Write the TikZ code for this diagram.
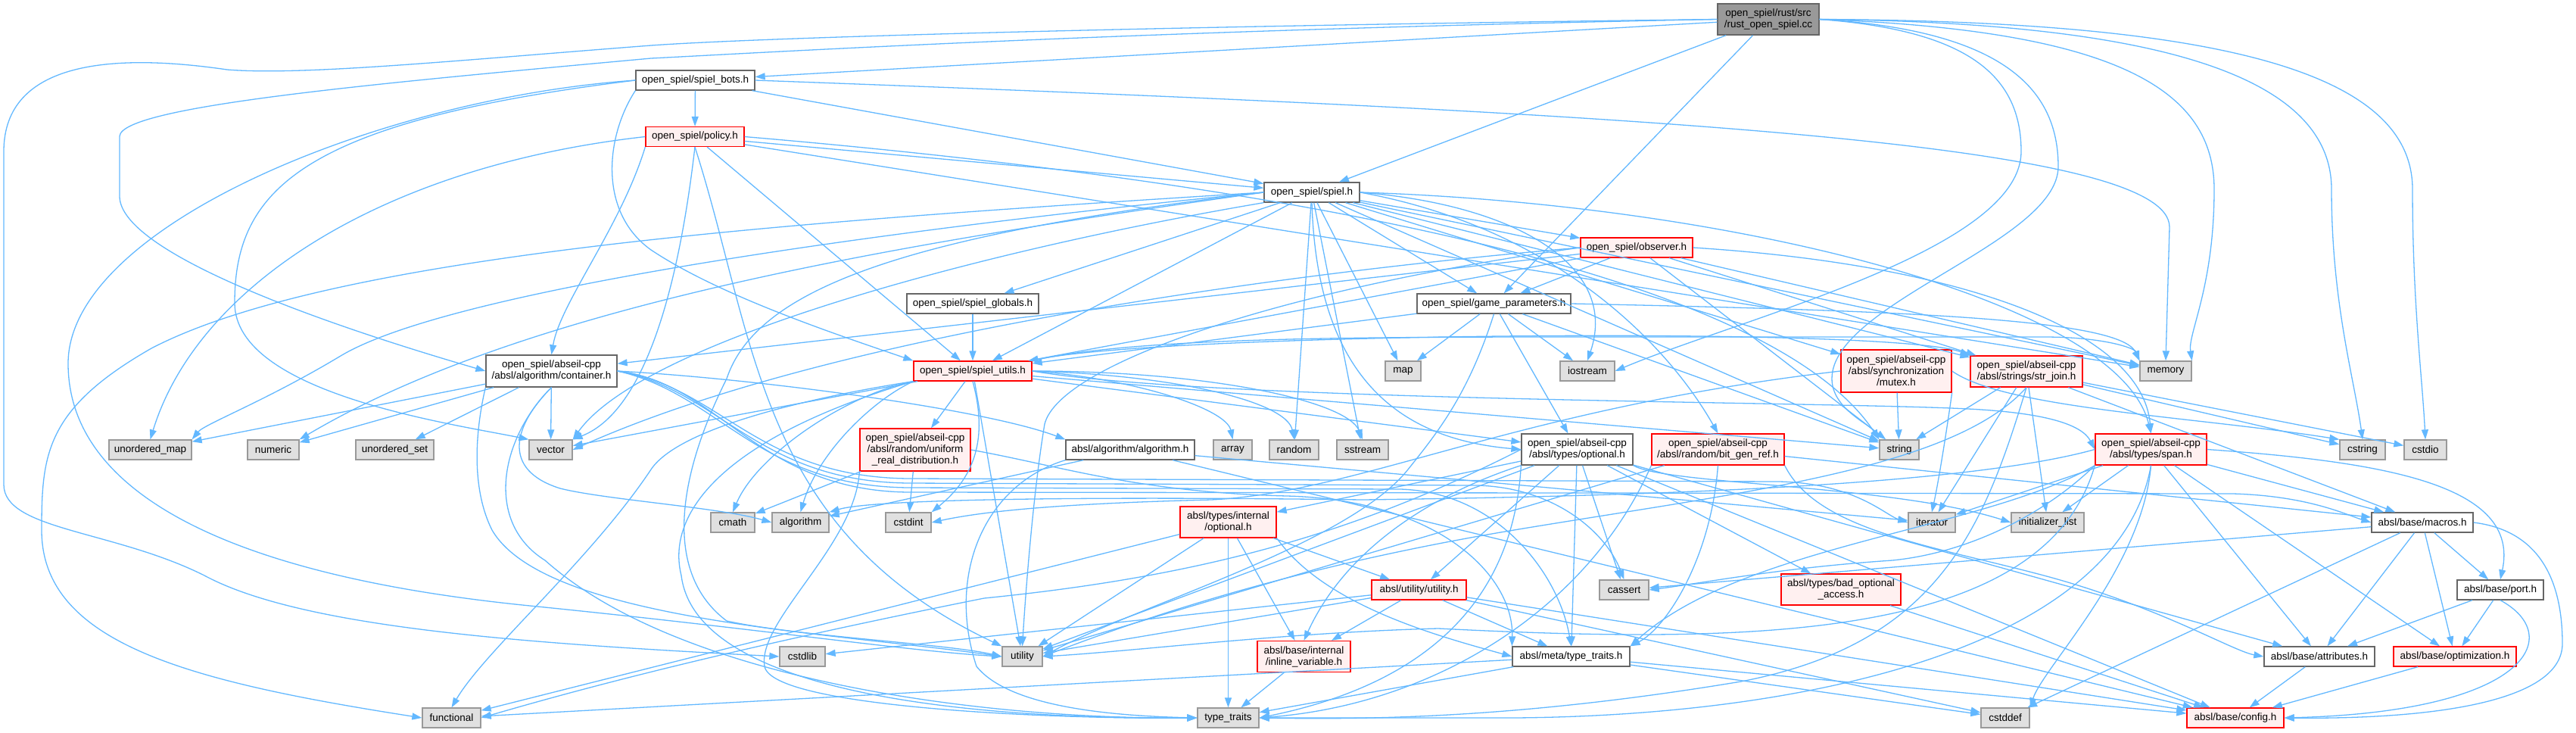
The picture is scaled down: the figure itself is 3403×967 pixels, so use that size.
\documentclass[tikz,border=0pt]{standalone}
\usepackage{fontspec}
\setmainfont{Liberation Sans}
\usetikzlibrary{arrows.meta}
\definecolor{edgec}{HTML}{63B8FF}
\definecolor{leaffill}{HTML}{E0E0E0}
\definecolor{leafdraw}{HTML}{999999}
\definecolor{nodedraw}{HTML}{666666}
\definecolor{truncfill}{HTML}{FFF0F0}
\definecolor{rootfill}{HTML}{999999}
\newcommand\nodefont{\fontsize{13.5}{15}\selectfont}
\begin{document}
\begin{tikzpicture}[x=1pt,y=-1pt,
  box/.style={rectangle, draw=nodedraw, fill=white, line width=1.3pt, inner sep=0pt,
    minimum height=26pt, align=center, font=\nodefont},
  leaf/.style={box, draw=leafdraw, fill=leaffill},
  trunc/.style={box, draw=red, fill=truncfill},
  rootbox/.style={box, draw=nodedraw, fill=rootfill},
  e/.style={draw=edgec, line width=1.3pt, -{Triangle[length=13pt,width=9pt]}}]
\useasboundingbox (0,0) rectangle (3403,967);

% ---------- nodes ----------
\node[rootbox, minimum width=134pt, minimum height=41pt] (R) at (2336,25.5) {open\_spiel/rust/src\\/rust\_open\_spiel.cc};
\node[box, minimum width=157pt] (SB) at (918.5,106) {open\_spiel/spiel\_bots.h};
\node[trunc, minimum width=130pt] (P) at (918,180.5) {open\_spiel/policy.h};
\node[box, minimum width=126pt] (S) at (1733,254) {open\_spiel/spiel.h};
\node[trunc, minimum width=148pt] (OBS) at (2162,327) {open\_spiel/observer.h};
\node[box, minimum width=203pt] (GP) at (1973.5,401) {open\_spiel/game\_parameters.h};
\node[box, minimum width=174pt] (SG) at (1285,401) {open\_spiel/spiel\_globals.h};
\node[trunc, minimum width=156pt] (SU) at (1285,490) {open\_spiel/spiel\_utils.h};
\node[box, minimum width=173pt, minimum height=42pt] (CONT) at (728.5,490) {open\_spiel/abseil-cpp\\/absl/algorithm/container.h};
\node[leaf, minimum width=109pt] (UMAP) at (198.5,594) {unordered\_map};
\node[leaf, minimum width=68pt] (NUM) at (361,594) {numeric};
\node[leaf, minimum width=103pt] (USET) at (521.5,594) {unordered\_set};
\node[leaf, minimum width=57pt] (VEC) at (727.5,594) {vector};
\node[leaf, minimum width=77pt] (FUNC) at (596.5,948) {functional};
\node[trunc, minimum width=146pt, minimum height=56pt] (URD) at (1209,594) {open\_spiel/abseil-cpp\\/absl/random/uniform\\\_real\_distribution.h};
\node[box, minimum width=170pt] (ALGH) at (1493,594) {absl/algorithm/algorithm.h};
\node[leaf, minimum width=51pt] (ARR) at (1628.5,594) {array};
\node[leaf, minimum width=65pt] (RAND) at (1709.5,594) {random};
\node[leaf, minimum width=58pt] (CMATH) at (968,690) {cmath};
\node[leaf, minimum width=75pt] (ALG) at (1057.5,690) {algorithm};
\node[leaf, minimum width=60pt] (CSTDINT) at (1200,690) {cstdint};
\node[trunc, minimum width=127pt, minimum height=41pt] (INTOPT) at (1622.5,689.5) {absl/types/internal\\/optional.h};
\node[leaf, minimum width=60pt] (CSTDLIB) at (1060,867) {cstdlib};
\node[leaf, minimum width=53pt] (UTIL) at (1350.5,867) {utility};
\node[leaf, minimum width=81pt] (TT) at (1622.5,948) {type\_traits};
\node[leaf, minimum width=47pt] (MAP) at (1853.5,490) {map};
\node[leaf, minimum width=72pt] (IOS) at (2097,490) {iostream};
\node[leaf, minimum width=68pt] (SST) at (1800,594) {sstream};
\node[box, minimum width=147pt, minimum height=41pt] (OPT) at (2083.5,593.5) {open\_spiel/abseil-cpp\\/absl/types/optional.h};
\node[trunc, minimum width=175pt, minimum height=41pt] (BGR) at (2269.5,593.5) {open\_spiel/abseil-cpp\\/absl/random/bit\_gen\_ref.h};
\node[leaf, minimum width=52pt] (STR) at (2509,594) {string};
\node[trunc, minimum width=146pt, minimum height=56pt] (MUTEX) at (2505,490) {open\_spiel/abseil-cpp\\/absl/synchronization\\/mutex.h};
\node[leaf, minimum width=62pt] (ITER) at (2552,690) {iterator};
\node[trunc, minimum width=125pt] (UTILH) at (1874.5,779) {absl/utility/utility.h};
\node[leaf, minimum width=65pt] (CASSERT) at (2145.5,779) {cassert};
\node[trunc, minimum width=158pt, minimum height=41pt] (BADOPT) at (2432,778.5) {absl/types/bad\_optional\\\_access.h};
\node[trunc, minimum width=123pt, minimum height=41pt] (INLINE) at (1722.5,867) {absl/base/internal\\/inline\_variable.h};
\node[box, minimum width=155pt] (MTT) at (2075.5,867) {absl/meta/type\_traits.h};
\node[leaf, minimum width=68pt] (MEM) at (2861,490) {memory};
\node[trunc, minimum width=148pt, minimum height=41pt] (SJ) at (2677,490.5) {open\_spiel/abseil-cpp\\/absl/strings/str\_join.h};
\node[leaf, minimum width=60pt] (CSTRING) at (3121,594) {cstring};
\node[leaf, minimum width=56pt] (CSTDIO) at (3204,594) {cstdio};
\node[trunc, minimum width=147pt, minimum height=41pt] (SPAN) at (2841.5,593.5) {open\_spiel/abseil-cpp\\/absl/types/span.h};
\node[leaf, minimum width=96pt] (INIT) at (2705,690) {initializer\_list};
\node[box, minimum width=134pt] (MACROS) at (3200,690) {absl/base/macros.h};
\node[box, minimum width=114pt] (PORT) at (3303,779) {absl/base/port.h};
\node[box, minimum width=146pt] (ATTR) at (3064,867) {absl/base/attributes.h};
\node[trunc, minimum width=162pt] (OPTIM) at (3243,867) {absl/base/optimization.h};
\node[leaf, minimum width=64pt] (CSTDDEF) at (2649,948) {cstddef};
\node[trunc, minimum width=128pt] (CONFIG) at (2953,948) {absl/base/config.h};

% ---------- edges: root ----------
\draw[e] (R) -- (SB);
\draw[e] (R) -- (S);
\draw[e] (R) -- (GP);
\draw[e] (R.east) .. controls (2800,40) and (2925,120) .. (2925,250) .. controls (2925,380) and (2890,440) .. (MEM.north east);
\draw[e] (R.east) .. controls (2850,30) and (3080,100) .. (3080,250) .. controls (3080,400) and (3110,500) .. (CSTRING.north);
\draw[e] (R.east) .. controls (2950,28) and (3187,100) .. (3187,250) .. controls (3187,400) and (3200,500) .. (CSTDIO.north);
\draw[e] (R.east) .. controls (2600,40) and (2670,100) .. (2670,200) .. controls (2670,330) and (2300,420) .. (IOS.east);
\draw[e] (R.east) .. controls (2650,40) and (2719,120) .. (2719,220) .. controls (2719,320) and (2420,400) .. (2420,500) .. controls (2420,540) and (2470,560) .. (STR.north west);
\draw[e] (R.west) .. controls (1500,40) and (1000,70) .. (860,77) .. controls (500,110) and (160,140) .. (158,180) -- (158,260) .. controls (160,330) and (400,420) .. (CONT.west);
\draw[e] (R.west) .. controls (1500,35) and (1000,50) .. (860,60) .. controls (600,80) and (400,100) .. (300,92) .. controls (150,70) and (5,80) .. (5,200) -- (5,640) .. controls (5,700) and (150,700) .. (270,760) .. controls (400,830) and (700,850) .. (CSTDLIB.west);

% ---------- spiel_bots ----------
\draw[e] (SB) -- (P);
\draw[e] (SB) -- (S);
\draw[e] (SB.east) .. controls (2200,150) and (2866,190) .. (2866,300) -- (MEM.north);
\draw[e] (SB.south west) .. controls (800,180) and (790,280) .. (860,330) .. controls (950,390) and (1100,440) .. (SU.north west);
\draw[e] (SB.west) .. controls (400,160) and (310,250) .. (310,400) .. controls (310,520) and (600,560) .. (VEC.north west);
\draw[e] (SB.west) .. controls (500,130) and (90,300) .. (90,480) .. controls (90,650) and (300,760) .. (700,800) .. controls (1000,830) and (1200,860) .. (UTIL.west);

% ---------- policy ----------
\draw[e] (P) -- (S);
\draw[e] (P) -- (SU);
\draw[e] (P.south west) .. controls (820,300) and (740,400) .. (CONT.north);
\draw[e] (P.west) .. controls (500,220) and (260,380) .. (UMAP.north);
\draw[e] (P) -- (MEM);
\draw[e] (P.east) .. controls (1800,250) and (2350,380) .. (STR.north west);
\draw[e] (P.south) .. controls (1000,450) and (1000,700) .. (UTIL.north west);
\draw[e] (P.south) .. controls (900,350) and (860,540) .. (VEC.north east);

% ---------- spiel ----------
\draw[e] (S) -- (OBS);
\draw[e] (S) -- (GP);
\draw[e] (S) -- (SG);
\draw[e] (S) -- (SU);
\draw[e] (S) -- (MAP);
\draw[e] (S.east) .. controls (2000,270) and (2140,350) .. (IOS.north);
\draw[e] (S) -- (RAND);
\draw[e] (S) -- (SST);
\draw[e] (S.south) .. controls (1740,500) and (1850,580) .. (OPT.west);
\draw[e] (S.east) .. controls (2050,300) and (2200,450) .. (BGR.north);
\draw[e] (S) -- (STR);
\draw[e] (S) -- (MEM);
\draw[e] (S) -- (MUTEX);
\draw[e] (S) -- (SJ);
\draw[e] (S.east) .. controls (2300,270) and (2800,400) .. (SPAN.north);
\draw[e] (S.west) .. controls (1200,320) and (700,400) .. (NUM.north east);
\draw[e] (S.west) .. controls (1200,300) and (600,380) .. (450,470) .. controls (350,530) and (270,560) .. (UMAP.north east);
\draw[e] (S.south west) .. controls (1300,330) and (850,450) .. (VEC.north east);
\draw[e] (S.west) .. controls (1200,310) and (1000,380) .. (960,500) .. controls (890,640) and (880,760) .. (960,820) .. controls (1050,840) and (1250,850) .. (UTIL.west);
\draw[e] (S.west) .. controls (1100,290) and (450,330) .. (200,460) .. controls (60,540) and (55,600) .. (55,700) .. controls (55,850) and (250,900) .. (FUNC.west);

% ---------- observer ----------
\draw[e] (OBS) -- (GP);
\draw[e] (OBS) -- (SU);
\draw[e] (OBS) -- (CONT);
\draw[e] (OBS) -- (MEM);
\draw[e] (OBS) -- (STR);
\draw[e] (OBS) -- (SJ);
\draw[e] (OBS.east) .. controls (2600,350) and (2830,440) .. (SPAN.north);
\draw[e] (OBS.west) .. controls (1700,380) and (1400,480) .. (1380,560) .. controls (1365,650) and (1355,780) .. (UTIL.north);
\draw[e] (OBS.west) .. controls (1700,360) and (1100,440) .. (VEC.east);

% ---------- game_parameters ----------
\draw[e] (GP) -- (MAP);
\draw[e] (GP) -- (IOS);
\draw[e] (GP) -- (SU);
\draw[e] (GP.east) .. controls (2500,410) and (2800,420) .. (MEM.north west);
\draw[e] (GP) -- (STR);
\draw[e] (GP) -- (OPT);
\draw[e] (GP.south) .. controls (1940,520) and (1900,570) .. (1860,620) .. controls (1780,720) and (1500,800) .. (UTIL.east);

% ---------- spiel_globals ----------
\draw[e] (SG) -- (SU);

% ---------- spiel_utils ----------
\draw[e] (SU) -- (URD);
\draw[e] (SU.south west) .. controls (1120,520) and (1000,600) .. (CMATH.north);
\draw[e] (SU.south west) .. controls (1150,530) and (1080,600) .. (ALG.north);
\draw[e] (SU.south) .. controls (1300,560) and (1300,620) .. (CSTDINT.north east);
\draw[e] (SU.east) .. controls (1500,500) and (1620,540) .. (ARR.north);
\draw[e] (SU.east) .. controls (1550,495) and (1700,530) .. (RAND.north);
\draw[e] (SU.east) .. controls (1600,490) and (1780,530) .. (SST.north);
\draw[e] (SU) -- (STR);
\draw[e] (SU.north east) .. controls (1500,445) and (1800,445) .. (2100,445) -- (2700,445) .. controls (2780,445) and (2820,460) .. (MEM.north west);
\draw[e] (SU) -- (VEC);
\draw[e] (SU) -- (UTIL);
\draw[e] (SU.south west) .. controls (950,580) and (880,680) .. (900,760) .. controls (920,920) and (1300,950) .. (TT.west);
\draw[e] (SU.south west) .. controls (1100,520) and (900,560) .. (860,620) .. controls (780,740) and (640,860) .. (FUNC.north);
\draw[e] (SU) -- (OPT);
\draw[e] (SU.north east) .. controls (1500,440) and (2500,430) .. (SJ.north west);
\draw[e] (SU.east) .. controls (1600,530) and (2400,530) .. (2600,540) .. controls (2700,545) and (2750,560) .. (SPAN.west);

% ---------- container ----------
\draw[e] (CONT) -- (UMAP);
\draw[e] (CONT) -- (NUM);
\draw[e] (CONT) -- (USET);
\draw[e] (CONT) -- (VEC);
\draw[e] (CONT.south) .. controls (680,560) and (660,620) .. (740,645) .. controls (800,660) and (950,670) .. (ALG.west);
\draw[e] (CONT.south) .. controls (660,580) and (640,690) .. (720,740) .. controls (900,900) and (1300,950) .. (TT.west);
\draw[e] (CONT.south west) .. controls (630,560) and (620,640) .. (650,700) .. controls (720,820) and (1100,835) .. (UTIL.west);
\draw[e] (CONT.east) .. controls (1000,500) and (1300,540) .. (ALGH.north west);
\draw[e] (CONT.east) .. controls (950,515) and (1000,636) .. (1200,638) -- (1950,641) .. controls (2050,643) and (2120,700) .. (CASSERT.north);
\draw[e] (CONT.east) .. controls (950,520) and (1000,642) .. (1200,644) -- (1850,646) .. controls (1980,650) and (2060,760) .. (MTT.north);
\draw[e] (CONT.east) .. controls (950,510) and (1000,630) .. (1200,632) -- (2350,636) .. controls (2450,638) and (2490,680) .. (ITER.west);
\draw[e] (CONT.east) .. controls (950,505) and (1000,648) .. (1200,650) -- (2950,652) .. controls (3050,655) and (3100,680) .. (MACROS.west);

% ---------- algorithm.h ----------
\draw[e] (ALGH) -- (ALG);
\draw[e] (ALGH) -- (ITER);
\draw[e] (ALGH.south west) .. controls (1300,640) and (1250,760) .. (1290,880) .. controls (1330,930) and (1450,945) .. (TT.west);
\draw[e] (ALGH) -- (CONFIG);

% ---------- uniform_real_distribution ----------
\draw[e] (URD) -- (CMATH);
\draw[e] (URD) -- (CSTDINT);
\draw[e] (URD.south west) .. controls (1130,720) and (1000,820) .. (1010,880) .. controls (1020,935) and (1400,950) .. (TT.west);
\draw[e] (URD.east) .. controls (1400,615) and (1500,650) .. (1700,655) .. controls (1900,660) and (2000,760) .. (MTT.north west);

% ---------- optional.h ----------
\draw[e] (OPT.west) .. controls (1800,700) and (1600,760) .. (1300,790) .. controls (1000,850) and (800,900) .. (FUNC.east);
\draw[e] (OPT.south east) .. controls (2200,640) and (2500,640) .. (INIT.west);
\draw[e] (OPT.south west) .. controls (2000,780) and (1900,900) .. (TT.east);
\draw[e] (OPT) -- (UTIL);
\draw[e] (OPT) -- (ATTR);
\draw[e] (OPT.south west) .. controls (1900,650) and (1780,720) .. (INLINE.north);
\draw[e] (OPT) -- (MTT);
\draw[e] (OPT) -- (BADOPT);
\draw[e] (OPT) -- (INTOPT);
\draw[e] (OPT) -- (CONFIG);
\draw[e] (OPT) -- (UTILH);
\draw[e] (OPT) -- (CASSERT);

% ---------- bit_gen_ref ----------
\draw[e] (BGR) -- (UTIL);
\draw[e] (BGR.south) .. controls (2260,740) and (2200,830) .. (MTT.north east);
\draw[e] (BGR) -- (MACROS);
\draw[e] (BGR.south west) .. controls (2100,800) and (1900,930) .. (TT.east);
\draw[e] (BGR.south east) .. controls (2400,700) and (2550,720) .. (2700,760) .. controls (2850,800) and (2950,860) .. (ATTR.west);

% ---------- mutex ----------
\draw[e] (MUTEX) -- (STR);
\draw[e] (MUTEX.south east) .. controls (2570,580) and (2560,640) .. (ITER.north);
\draw[e] (MUTEX.west) .. controls (2000,540) and (1800,650) .. (1600,660) .. controls (1400,665) and (1300,675) .. (CSTDINT.east);
\draw[e] (MUTEX.east) .. controls (2650,540) and (2900,550) .. (CSTRING.north west);

% ---------- str_join ----------
\draw[e] (SJ) -- (CSTDIO);
\draw[e] (SJ) -- (CSTRING);
\draw[e] (SJ) -- (INIT);
\draw[e] (SJ) -- (ITER);
\draw[e] (SJ) -- (STR);
\draw[e] (SJ.south) .. controls (2620,700) and (2560,850) .. (2300,900) .. controls (2000,950) and (1800,950) .. (TT.east);
\draw[e] (SJ.south) .. controls (2580,620) and (2300,650) .. (2000,700) .. controls (1700,750) and (1500,820) .. (UTIL.east);
\draw[e] (SJ) -- (MACROS);

% ---------- span ----------
\draw[e] (SPAN.west) .. controls (2600,640) and (2200,655) .. (1800,660) .. controls (1400,655) and (1150,660) .. (ALG.north east);
\draw[e] (SPAN.south west) .. controls (2700,680) and (2600,730) .. (2500,740) .. controls (2350,750) and (2250,770) .. (CASSERT.east);
\draw[e] (SPAN.south) .. controls (2830,750) and (2700,880) .. (CSTDDEF.north east);
\draw[e] (SPAN) -- (INIT);
\draw[e] (SPAN) -- (ITER);
\draw[e] (SPAN.south) .. controls (2800,850) and (2400,945) .. (2000,948) -- (TT.east);
\draw[e] (SPAN.south west) .. controls (2700,850) and (2300,850) .. (1900,830) .. controls (1700,835) and (1500,860) .. (UTIL.east);
\draw[e] (SPAN) -- (ATTR);
\draw[e] (SPAN) -- (MACROS);
\draw[e] (SPAN) -- (OPTIM);
\draw[e] (SPAN.east) .. controls (3150,610) and (3330,640) .. (PORT.north);
\draw[e] (SPAN.south west) .. controls (2620,700) and (2300,720) .. (MTT.north east);

% ---------- internal/optional ----------
\draw[e] (INTOPT) -- (FUNC);
\draw[e] (INTOPT) -- (TT);
\draw[e] (INTOPT) -- (UTIL);
\draw[e] (INTOPT) -- (INLINE);
\draw[e] (INTOPT) -- (UTILH);
\draw[e] (INTOPT.south east) .. controls (1750,800) and (1900,840) .. (MTT.west);

% ---------- utility.h ----------
\draw[e] (UTILH) -- (CSTDLIB);
\draw[e] (UTILH) -- (UTIL);
\draw[e] (UTILH) -- (INLINE);
\draw[e] (UTILH) -- (MTT);
\draw[e] (UTILH) -- (CSTDDEF);
\draw[e] (UTILH) -- (CONFIG);

% ---------- small abseil headers ----------
\draw[e] (INLINE) -- (TT);
\draw[e] (MTT) -- (TT);
\draw[e] (MTT) -- (FUNC);
\draw[e] (MTT) -- (CSTDDEF);
\draw[e] (MTT) -- (CONFIG);
\draw[e] (BADOPT) -- (CONFIG);
\draw[e] (MACROS) -- (CASSERT);
\draw[e] (MACROS) -- (CSTDDEF);
\draw[e] (MACROS) -- (ATTR);
\draw[e] (MACROS.east) .. controls (3350,700) and (3385,760) .. (3385,850) .. controls (3385,930) and (3200,950) .. (CONFIG.east);
\draw[e] (MACROS) -- (OPTIM);
\draw[e] (MACROS) -- (PORT);
\draw[e] (PORT) -- (ATTR);
\draw[e] (PORT) -- (OPTIM);
\draw[e] (PORT.south) .. controls (3390,840) and (3340,940) .. (CONFIG.east);
\draw[e] (ATTR) -- (CONFIG);
\draw[e] (OPTIM) -- (CONFIG);
\end{tikzpicture}
\end{document}
